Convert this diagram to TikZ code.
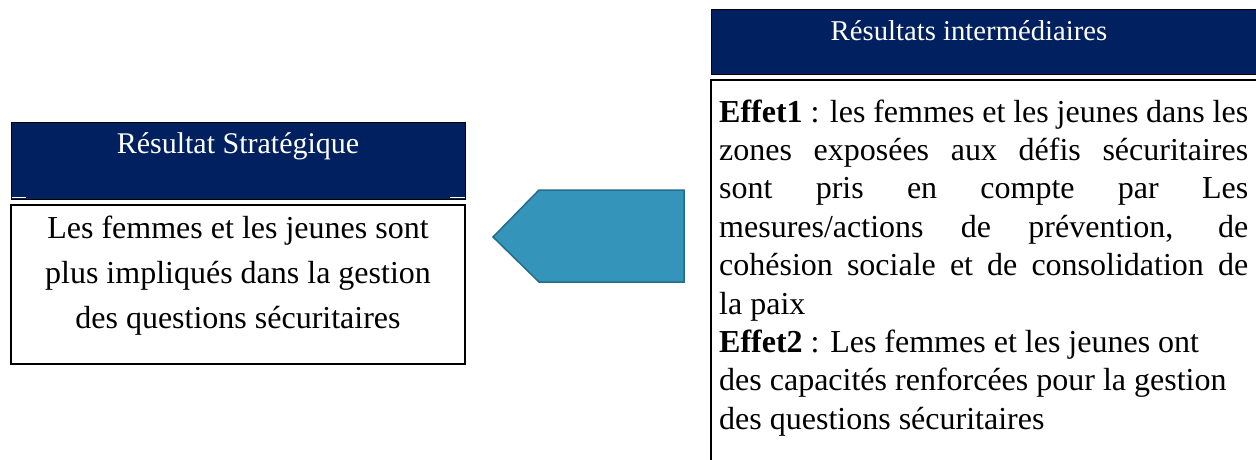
\documentclass[tikz,border=0pt]{standalone}
\usepackage{fontspec}
\setmainfont{Liberation Serif}
\definecolor{navy}{HTML}{002060}
\definecolor{arrowfill}{HTML}{3494BA}
\definecolor{arrowedge}{HTML}{256C8A}
\begin{document}
\begin{tikzpicture}[x=1pt,y=-1pt,
  headbox/.style={draw=black,line width=0.9pt,fill=navy},
  bodybox/.style={draw=black,line width=1.2pt,fill=white},
  headtext/.style={text=white,inner sep=0pt,anchor=base},
  bodyline/.style={inner sep=0pt,anchor=base,font=\fontsize{32}{38}\selectfont},
  rightline/.style={inner sep=0pt,anchor=base west,font=\fontsize{32}{38}\selectfont}]
\useasboundingbox (0,0) rectangle (1256,460);
\clip (0,0) rectangle (1256,460);

% strategic result (left)
\draw[headbox] (11,122) rectangle (465,199);
\draw[white,line width=1pt] (11.5,197.6) -- (26,197.6) (450,197.6) -- (464.5,197.6);
\node[headtext,font=\fontsize{30}{36}\selectfont] (sh) at (238,153) {Résultat Stratégique};
\draw[bodybox] (11,205) rectangle (465,364);
\node[bodyline] (s1) at (238,238) {Les femmes et les jeunes sont};
\node[bodyline] (s2) at (238,283) {plus impliqués dans la gestion};
\node[bodyline] (s3) at (238,328) {des questions sécuritaires};

% arrow from intermediate results to strategic result
\draw[fill=arrowfill,draw=arrowedge,line width=1.5pt,line join=miter]
  (684,190) -- (539,190) -- (493,237) -- (539,282) -- (684,282) -- cycle;

% intermediate results (right)
\draw[headbox] (711,9) rectangle (1262,74);
\node[headtext,font=\fontsize{28.7}{34}\selectfont] (ih) at (969,40.5) {Résultats intermédiaires};
\draw[bodybox] (711,80) rectangle (1262,466);
\node[rightline] (r1) at (719,122.0) {\makebox[529pt][s]{\textbf{Effet1} : les femmes et les jeunes dans les}};
\node[rightline] (r2) at (719,160.4) {\makebox[529pt][s]{zones exposées aux défis sécuritaires}};
\node[rightline] (r3) at (719,198.8) {\makebox[529pt][s]{sont pris en compte par Les}};
\node[rightline] (r4) at (719,237.2) {\makebox[529pt][s]{mesures/actions de prévention, de}};
\node[rightline] (r5) at (719,275.6) {\makebox[529pt][s]{cohésion sociale et de consolidation de}};
\node[rightline] (r6) at (719,314.0) {la paix};
\node[rightline] (r7) at (719,352.4) {\textbf{Effet2} : Les femmes et les jeunes ont};
\node[rightline] (r8) at (719,390.8) {des capacités renforcées pour la gestion};
\node[rightline] (r9) at (719,429.2) {des questions sécuritaires};
\end{tikzpicture}
\end{document}
